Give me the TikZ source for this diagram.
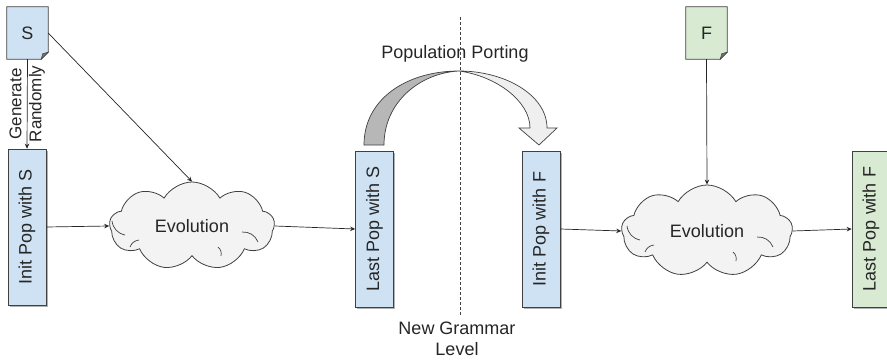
\documentclass[tikz,border=0pt]{standalone}
\usepackage{fontspec}
\setmainfont{Liberation Sans}
\usetikzlibrary{shapes.symbols,arrows.meta,calc,shadows}
\definecolor{popblue}{HTML}{CFE2F3}
\definecolor{popgreen}{HTML}{D9EAD3}
\definecolor{cloudgray}{HTML}{F3F3F3}
\definecolor{edgegray}{HTML}{404040}
\definecolor{bandback}{HTML}{B7B7B7}
\definecolor{bandfront}{HTML}{EFEFEF}
\pgfdeclarelayer{back}
\pgfsetlayers{back,main}

% page with a folded bottom-right corner, drawn behind node #1
\newcommand{\drawfolded}[2]{%
  \begin{pgfonlayer}{back}
    \filldraw[fill=#2, draw=edgegray, line width=0.7pt]
      (#1.north west) -- (#1.north east) -- ($(#1.south east)+(0,-7)$)
      -- ($(#1.south east)+(-7,0)$) -- (#1.south west) -- cycle;
    \filldraw[fill=black!55, draw=edgegray, line width=0.5pt]
      ($(#1.south east)+(0,-7)$) -- ($(#1.south east)+(-5.5,-5.5)$)
      -- ($(#1.south east)+(-7,0)$) -- cycle;
  \end{pgfonlayer}%
}

% small inner curls of a cloud node #1
\newcommand{\cloudcurls}[1]{%
  \draw[curl] ($(#1.center)+(-80,-5)$) to[bend right=35] ($(#1.center)+(-67,9)$);
  \draw[curl] ($(#1.center)+(50,6)$) to[bend left=35] ($(#1.center)+(66,16)$);
  \draw[curl] ($(#1.center)+(29,30)$) to[bend right=30] ($(#1.center)+(26,21)$);
  \draw[curl] ($(#1.center)+(-62,21)$) to[bend left=30] ($(#1.center)+(-53,14)$);
}

\begin{document}
\begin{tikzpicture}[x=1pt,y=-1pt,
  every node/.style={font=\fontsize{18}{21.5}\selectfont, text=black!85},
  popbox/.style={draw=edgegray, line width=0.7pt, minimum width=38pt,
    minimum height=156pt, inner sep=0pt,
    drop shadow={shadow xshift=1.5pt, shadow yshift=-1.5pt, opacity=0.3, fill=black}},
  docbox/.style={minimum width=41pt, minimum height=52pt, inner sep=0pt},
  evo/.style={cloud, cloud puffs=9, cloud puff arc=120, cloud ignores aspect,
    draw=edgegray, line width=0.8pt, fill=cloudgray, inner sep=0pt},
  curl/.style={draw=edgegray, line width=0.7pt},
  link/.style={draw=black!85, line width=0.7pt, -{Stealth[length=5pt,width=4.5pt]}},
  porting/.style={draw=edgegray, line width=0.7pt},
  levelcut/.style={draw=black!75, line width=0.7pt, dash pattern=on 3pt off 2pt},
]
\begin{pgfonlayer}{back}
  \fill[white] (0,0) rectangle (887,361);
\end{pgfonlayer}
\useasboundingbox (0,0) rectangle (887,361);

% grammar documents
\node[docbox] (S) at (27.5,33) {S};
\drawfolded{S}{popblue}
\node[docbox] (F) at (706.5,33) {F};
\drawfolded{F}{popgreen}

% populations and evolution steps
\node[popbox, fill=popblue] (initS) at (27,227) {\rotatebox{90}{Init Pop with S}};
\node[evo, minimum width=165pt, minimum height=88pt] (evoA) at (192,226) {};
\cloudcurls{evoA}
\node (evoAtext) at (evoA.center) {Evolution};
\node[popbox, fill=popblue] (lastS) at (374.5,229) {\rotatebox{90}{Last Pop with S}};
\node[popbox, fill=popblue] (initF) at (541,229) {\rotatebox{90}{Init Pop with F}};
\node[evo, minimum width=171pt, minimum height=92pt] (evoB) at (707,231) {};
\cloudcurls{evoB}
\node (evoBtext) at (evoB.center) {Evolution};
\node[popbox, fill=popgreen] (lastF) at (871,229) {\rotatebox{90}{Last Pop with F}};

% connectors
\draw[link] (S.south) -- (initS.north)
  node[midway, rotate=90, align=center, font=\fontsize{17}{20}\selectfont] (genlabel) {Generate\\Randomly};
\draw[link] (S.east) -- (evoA.north);
\draw[link] (initS.east) -- (evoA.west);
\draw[link] (evoA.east) -- (lastS.west);
\draw[link] (initF.east) -- (evoB.west);
\draw[link] (F.south) -- (evoB.north);
\draw[link] (evoB.east) -- (lastF.west);

% curved porting arrow
\coordinate (peak) at (459,71);
\filldraw[porting, fill=bandback]
  (364,145) .. controls (364,98) and (408,71) .. (peak)
  .. controls (420,73) and (384,102) .. (384,145) -- cycle;
\filldraw[porting, fill=bandfront]
  (peak) .. controls (505,71) and (547,95) .. (547,128)
  -- (557,128) -- (539,145) -- (519,128) -- (530,128)
  .. controls (530,101) and (496,76) .. (peak) -- cycle;
\node (portlabel) at (455,54) {Population Porting};

% grammar level boundary
\coordinate (cutTop) at (460,17);
\coordinate (cutBot) at (460,315);
\draw[levelcut] (cutTop) -- (cutBot);
\node[align=center] (levellabel) at (457,339) {New Grammar\\Level};
\end{tikzpicture}
\end{document}
